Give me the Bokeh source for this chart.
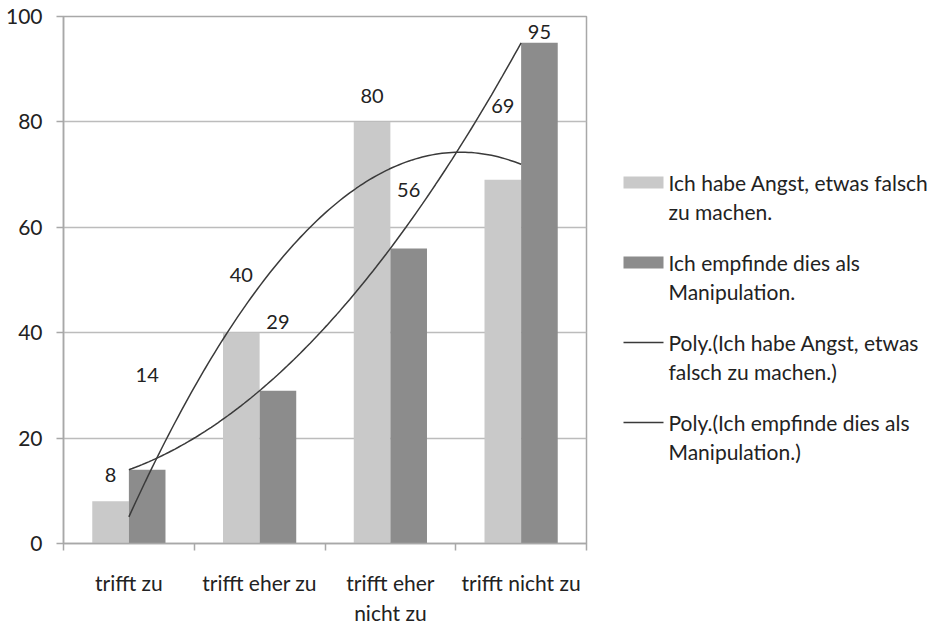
import numpy as np
from bokeh.plotting import figure
from bokeh.layouts import row
from bokeh.models import FixedTicker, Range1d
from bokeh.embed import file_html
from bokeh.resources import INLINE
from bokeh.core.properties import value

# ---------------- data ----------------
categories = ["trifft zu", "trifft eher zu", "trifft eher\nnicht zu", "trifft nicht zu"]
angst = [8, 40, 80, 69]
manip = [14, 29, 56, 95]
series_names = ["Ich habe Angst, etwas falsch\nzu machen.",
                "Ich empfinde dies als\nManipulation."]
trend_names = ["Poly.(Ich habe Angst, etwas\nfalsch zu machen.)",
               "Poly.(Ich empfinde dies als\nManipulation.)"]
y_ticks = [0, 20, 40, 60, 80, 100]

# ---------------- layout / style ----------------
FONT = "Lato"
LIGHT = "#c9c9c9"
DARK = "#8c8c8c"
LINE = "#3a3a3a"
GRID = "#bcbcbc"
AXC = "#a8a8a8"
TXT = "#222222"
bar_w = 0.28
angst_label_dy = [5, 11, 5, 14]   # label placement offsets (value units)
manip_label_dy = [18, 13, 11, 2]

H = 628
B_LEFT, B_TOP, B_BOTTOM = 63, 16, 85
MAIN_W = 590
LEG_W = 340

pos = np.arange(1, len(categories) + 1)

p = figure(width=MAIN_W, height=H, x_range=Range1d(0.5, 4.5), y_range=Range1d(0, 100),
           output_backend="svg", toolbar_location=None,
           min_border_left=B_LEFT, min_border_right=4, min_border_top=B_TOP,
           min_border_bottom=B_BOTTOM)

p.vbar(x=pos - bar_w / 2, top=angst, width=bar_w, fill_color=LIGHT, line_color=None)
p.vbar(x=pos + bar_w / 2, top=manip, width=bar_w, fill_color=DARK, line_color=None)

# polynomial (order 2) trendlines fitted to the data, as in the original
xs = np.linspace(1, 4, 120)
fa = np.polyval(np.polyfit(pos, angst, 2), xs)
fm = np.polyval(np.polyfit(pos, manip, 2), xs)
p.line(xs, fa, line_color=LINE, line_width=1.5)
p.line(xs, fm, line_color=LINE, line_width=1.5)

# data labels
p.text(x=pos - bar_w / 2, y=np.array(angst) + np.array(angst_label_dy), text=[str(v) for v in angst],
       text_align="center", text_baseline="middle", text_font=value(FONT),
       text_font_size="20px", text_color=TXT)
p.text(x=pos + bar_w / 2, y=np.array(manip) + np.array(manip_label_dy), text=[str(v) for v in manip],
       text_align="center", text_baseline="middle", text_font=value(FONT),
       text_font_size="20px", text_color=TXT)

# axes
p.xgrid.visible = False
p.ygrid.grid_line_color = GRID
p.ygrid.grid_line_width = 1.5
p.yaxis.ticker = FixedTicker(ticks=y_ticks)
p.xaxis.ticker = FixedTicker(ticks=list(pos), minor_ticks=list(np.arange(0.5, len(categories) + 1, 1.0)))
p.xaxis.major_label_overrides = {int(k): c for k, c in zip(pos, categories)}
for ax in (p.xaxis[0], p.yaxis[0]):
    ax.axis_line_color = AXC
    ax.axis_line_width = 1.5
    ax.major_label_text_font = FONT
    ax.major_label_text_font_size = "21px"
    ax.major_label_text_color = TXT
p.xaxis.major_tick_line_color = None
p.xaxis.minor_tick_line_color = AXC
p.xaxis.minor_tick_line_width = 1.5
p.xaxis.minor_tick_out = 7
p.xaxis.minor_tick_in = 0
p.xaxis.major_label_standoff = 19
p.xaxis.major_label_text_line_height = 1.2
p.yaxis.major_tick_line_color = AXC
p.yaxis.major_tick_line_width = 1.5
p.yaxis.major_tick_out = 7
p.yaxis.major_tick_in = 0
p.yaxis.minor_tick_line_color = None
p.yaxis.major_label_standoff = 14
p.outline_line_color = AXC
p.outline_line_width = 1.5

# ---------------- legend (separate panel to the right, page-pixel coordinates) ----------------
LEG_X = 623         # swatch left
LEG_TX = 668        # text left
LEG_Y0 = 182        # first line centre
LEG_PITCH = 80      # between entries
LINE_PITCH = 29     # between wrapped lines
lg = figure(width=LEG_W, height=H, x_range=Range1d(MAIN_W, MAIN_W + LEG_W),
            y_range=Range1d(H - B_BOTTOM, B_TOP),
            output_backend="svg", toolbar_location=None, x_axis_location=None,
            y_axis_location=None, min_border_left=0, min_border_right=0,
            min_border_top=B_TOP, min_border_bottom=B_BOTTOM)
lg.grid.visible = False
lg.outline_line_color = None
entries = [(series_names[0], "bar", LIGHT), (series_names[1], "bar", DARK),
           (trend_names[0], "line", LINE), (trend_names[1], "line", LINE)]
for i, (name, kind, col) in enumerate(entries):
    yc = LEG_Y0 + i * LEG_PITCH
    if kind == "bar":
        lg.rect(x=[LEG_X + 20], y=[yc], width=40, height=12, fill_color=col, line_color=None)
    else:
        lg.segment(x0=[LEG_X], y0=[yc], x1=[LEG_X + 40], y1=[yc], line_color=col, line_width=1.5)
    for j, ln in enumerate(name.split("\n")):
        lg.text(x=[LEG_TX], y=[yc + j * LINE_PITCH], text=[ln], text_align="left",
                text_baseline="middle", text_font=value(FONT), text_font_size="21px",
                text_color=TXT)

open("out.html", "w").write(file_html(row(p, lg), INLINE))
